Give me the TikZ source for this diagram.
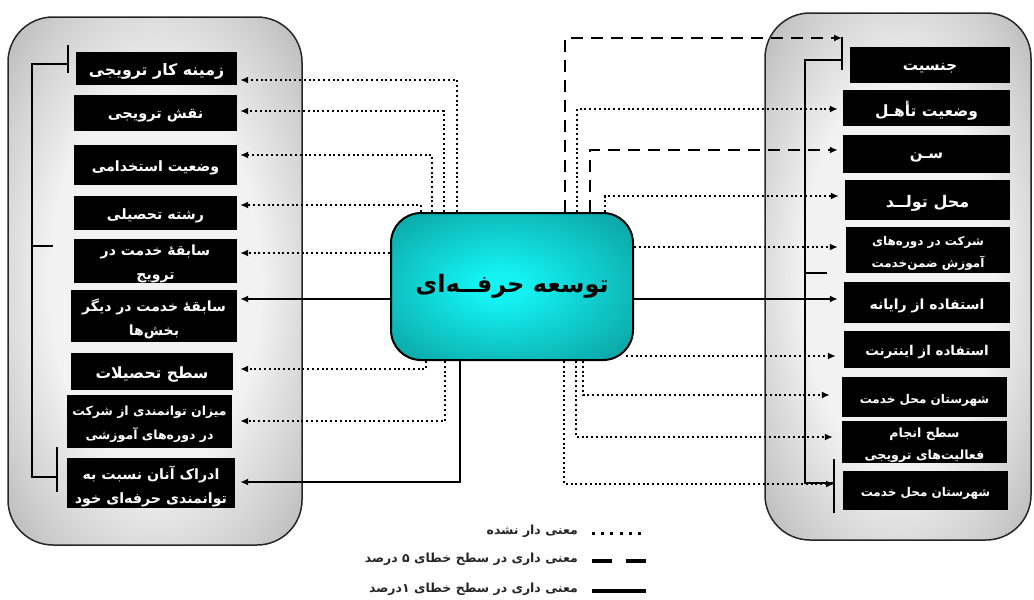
\documentclass[tikz,border=0pt]{standalone}
\usepackage{fontspec}
\usetikzlibrary{arrows.meta}
\TeXXeTstate=1
\newfontfamily\fafont[Script=Arabic]{DejaVu Sans}
\newcommand{\fa}[1]{\raisebox{-3pt}[\height][\depth]{\beginR #1\endR}}
\newcommand{\fl}[1]{\beginR #1\endR}
\definecolor{pedge}{gray}{0.46}
\definecolor{pmid2}{gray}{0.62}
\definecolor{pmid}{gray}{0.80}
\definecolor{pin}{gray}{0.95}
\definecolor{ccin}{RGB}{20,242,242}
\definecolor{ccout}{RGB}{8,120,120}
\definecolor{legtext}{gray}{0.15}
\pgfdeclareradialshading{panelshade}{\pgfpoint{0bp}{0bp}}{color(0bp)=(pin); color(18bp)=(pin); color(30bp)=(pmid); color(42bp)=(pmid2); color(50bp)=(pedge)}
\pgfdeclareradialshading{coreshade}{\pgfpoint{-3bp}{0bp}}{color(0bp)=(ccin); color(5bp)=(ccin); color(50bp)=(ccout)}
\tikzset{
  panel/.style={shading=panelshade, draw=black!85, line width=1.5pt, rounded corners=45pt},
  core/.style={shade, shading=coreshade, draw=black, line width=2pt, rounded corners=30pt,
    minimum width=242pt, minimum height=147pt, inner sep=0pt,
    font=\fafont\bfseries\fontsize{24}{30}\selectfont},
  vbox/.style={fill=black, text=white, inner sep=0pt, align=center},
  fz/.style={font=\fafont\bfseries\fontsize{#1}{24}\selectfont},
  fzs/.style={font=\fafont\bfseries\fontsize{#1}{22}\selectfont},
  tipx/.style={-{Latex[length=8pt,width=7pt]}},
  dotln/.style={line width=2pt, dash pattern=on 2pt off 2.8pt},
  dashln/.style={line width=2.6pt, dash pattern=on 12pt off 8pt},
  solidln/.style={line width=2pt},
  brk/.style={line width=2.5pt, black},
  legtxt/.style={anchor=east, text=legtext, inner sep=0pt,
    font=\fafont\bfseries\fontsize{12.5}{15}\selectfont},
}
\begin{document}
\begin{tikzpicture}[x=1pt, y=-1pt]
\useasboundingbox (0,0) rectangle (1034,600);
% panels
\shadedraw[panel] (8,17) rectangle (302,545);
\shadedraw[panel] (765,13) rectangle (1031,540);

% central node
\node[core] (C) at (512,286.5) {\fl{توسعه حرفــه‌ای}};

% left boxes
\node[vbox, fz=15.8, minimum width=161pt, minimum height=33pt] (L1) at (156.5,68.5) {\fa{زمینه کار ترویجی}};
\node[vbox, fz=14.5, minimum width=163pt, minimum height=36pt] (L2) at (155.5,113) {\fa{نقش ترویجی}};
\node[vbox, fz=14.2, minimum width=163pt, minimum height=40pt] (L3) at (155.5,165) {\fa{وضعیت استخدامی}};
\node[vbox, fz=14.2, minimum width=163pt, minimum height=34pt] (L4) at (155.5,213) {\fa{رشته تحصیلی}};
\node[vbox, fz=14, minimum width=163pt, minimum height=44pt] (L5) at (155.5,261) {\fa{سابقهٔ خدمت در}\\\fa{ترویج}};
\node[vbox, fz=14, minimum width=166pt, minimum height=52pt] (L6) at (154,316) {\fa{سابقهٔ خدمت در دیگر}\\\fa{بخش‌ها}};
\node[vbox, fz=15.5, minimum width=162pt, minimum height=37pt] (L7) at (152,371.5) {\fa{سطح تحصیلات}};
\node[vbox, fz=12.5, minimum width=165pt, minimum height=53pt] (L8) at (149.5,421.5) {\fa{میزان توانمندی از شرکت}\\\fa{در دوره‌های آموزشی}};
\node[vbox, fz=14.2, minimum width=168pt, minimum height=50pt] (L9) at (151,483) {\fa{ادراک آنان نسبت به}\\\fa{توانمندی حرفه‌ای خود}};

% right boxes
\node[vbox, fz=15, minimum width=160pt, minimum height=36pt] (R1) at (930,65) {\fa{جنسیت}};
\node[vbox, fz=15.5, minimum width=167pt, minimum height=36pt] (R2) at (926.5,108) {\fa{وضعیت تأهـل}};
\node[vbox, fz=15, minimum width=167pt, minimum height=38pt] (R3) at (926.5,154) {\fa{سـن}};
\node[vbox, fz=16, minimum width=165pt, minimum height=40pt] (R4) at (927.5,200) {\fa{محل تولــد}};
\node[vbox, fzs=12, minimum width=164pt, minimum height=46pt] (R5) at (928,250) {\fa{شرکت در دوره‌های}\\\fa{آموزش ضمن‌خدمت}};
\node[vbox, fz=14, minimum width=166pt, minimum height=41pt] (R6) at (927,302.5) {\fa{استفاده از رایانه}};
\node[vbox, fz=13.5, minimum width=166pt, minimum height=37pt] (R7) at (927,349.5) {\fa{استفاده از اینترنت}};
\node[vbox, fz=12, minimum width=165pt, minimum height=40pt] (R8) at (924.5,397) {\fa{شهرستان محل خدمت}};
\node[vbox, fzs=12.6, minimum width=165pt, minimum height=42pt] (R9) at (924.5,442) {\fa{سطح انجام}\\\fa{فعالیت‌های ترویجی}};
\node[vbox, fz=12, minimum width=165pt, minimum height=39pt] (R10) at (925.5,490.5) {\fa{شهرستان محل خدمت}};

% left brackets
\coordinate (lt1) at (68,64);
\coordinate (lt9) at (57,477);
\draw[brk] (lt1) -- (32,64) -- (32,477) -- (lt9);
\draw[brk] ([yshift=-9pt]lt1) -- ([yshift=19pt]lt1);
\draw[brk] (32,246) -- (53,246);
\draw[brk] ([yshift=-15pt]lt9) -- ([yshift=30pt]lt9);

% right brackets
\coordinate (rt1) at (842,60);
\coordinate (rt10) at (834,483);
\draw[brk] (rt1) -- (805,60) -- (805,483) -- (rt10);
\draw[brk] ([yshift=-10pt]rt1) -- ([yshift=23pt]rt1);
\draw[brk] (805,273) -- (827,273);
\draw[brk] ([yshift=-30pt]rt10) -- ([yshift=24pt]rt10);

% arrow end points on the left
\coordinate (a1) at ([xshift=3pt,yshift=-11.5pt]L1.east);
\coordinate (a2) at ([xshift=3pt,yshift=2pt]L2.east);
\coordinate (a3) at ([xshift=3pt,yshift=10pt]L3.east);
\coordinate (a4) at ([xshift=3pt,yshift=8pt]L4.east);
\coordinate (a5) at ([xshift=3pt,yshift=8pt]L5.east);
\coordinate (a6) at ([xshift=3pt,yshift=17pt]L6.east);
\coordinate (a7) at ([xshift=7pt,yshift=2.5pt]L7.east);
\coordinate (a8) at ([xshift=8pt,yshift=0.5pt]L8.east);
\coordinate (a9) at ([xshift=5pt,yshift=1pt]L9.east);
% vertical drop positions on the left
\coordinate (xl1) at (457,0);
\coordinate (xl2) at (444,0);
\coordinate (xl3) at (432,0);
\coordinate (xl4) at (421,0);
\coordinate (xl7) at (426,0);
\coordinate (xl8) at (445,0);
\coordinate (xl9) at (460,0);

\draw[dotln, tipx] (C.north -| xl1) |- (a1);
\draw[dotln, tipx] (C.north -| xl2) |- (a2);
\draw[dotln, tipx] (C.north -| xl3) |- (a3);
\draw[dotln, tipx] (C.north -| xl4) |- (a4);
\draw[dotln, tipx] (C.west |- a5) -- (a5);
\draw[solidln, tipx] (C.west |- a6) -- (a6);
\draw[dotln, tipx] (C.south -| xl7) |- (a7);
\draw[dotln, tipx] (C.south -| xl8) |- (a8);
\draw[solidln, tipx] (C.south -| xl9) |- (a9);

% arrow end points on the right
\coordinate (b1) at ([yshift=22pt]rt1);
\coordinate (b2) at ([xshift=-5pt,yshift=-1pt]R2.west);
\coordinate (b3) at ([xshift=-5pt,yshift=4pt]R3.west);
\coordinate (b4) at ([xshift=-6pt,yshift=4pt]R4.west);
\coordinate (b5) at ([xshift=-8pt,yshift=3pt]R5.west);
\coordinate (b6) at ([xshift=-6pt,yshift=3.5pt]R6.west);
\coordinate (b7) at ([xshift=-8pt,yshift=-6.5pt]R7.west);
\coordinate (b8) at ([xshift=-12pt,yshift=2pt]R8.west);
\coordinate (b9) at ([xshift=-9pt,yshift=5pt]R9.west);
\coordinate (b10) at ([yshift=-1pt]rt10);
% vertical drop positions on the right
\coordinate (xr1) at (565,0);
\coordinate (xr2) at (577,0);
\coordinate (xr3) at (590,0);
\coordinate (xr4) at (605,0);
\coordinate (xr8) at (583,0);
\coordinate (xr9) at (576,0);
\coordinate (xr10) at (564,0);

\draw[dashln, tipx] (C.north -| xr1) |- (b1);
\draw[dotln, tipx] (C.north -| xr2) |- (b2);
\draw[dashln, tipx] (C.north -| xr3) |- (b3);
\draw[dotln, tipx] (C.north -| xr4) |- (b4);
\draw[dotln, tipx] (C.east |- b5) -- (b5);
\draw[solidln, tipx] (C.east |- b6) -- (b6);
\draw[dotln, tipx] ([xshift=-8pt]C.east |- b7) -- (b7);
\draw[dotln, tipx] (C.south -| xr8) |- (b8);
\draw[dotln, tipx] (C.south -| xr9) |- (b9);
\draw[dotln, tipx] (C.south -| xr10) |- (b10);

% legend
\coordinate (g1a) at (592,533); \coordinate (g1b) at (646,533);
\coordinate (g2a) at (592,561); \coordinate (g2b) at (646,561);
\coordinate (g3a) at (592,591); \coordinate (g3b) at (646,591);
\draw[line width=3pt, dash pattern=on 3pt off 6.2pt] (g1a) -- (g1b);
\draw[line width=3.2pt, dash pattern=on 20pt off 14pt] (g2a) -- (g2b);
\draw[line width=3.2pt] (g3a) -- (g3b);
\node[legtxt] (t1) at (578,531) {\fl{معنی دار نشده}};
\node[legtxt] (t2) at (578,559) {\fl{معنی داری در سطح خطای ۵ درصد}};
\node[legtxt] (t3) at (578,589) {\fl{معنی داری در سطح خطای ۱درصد}};
\end{tikzpicture}
\end{document}
